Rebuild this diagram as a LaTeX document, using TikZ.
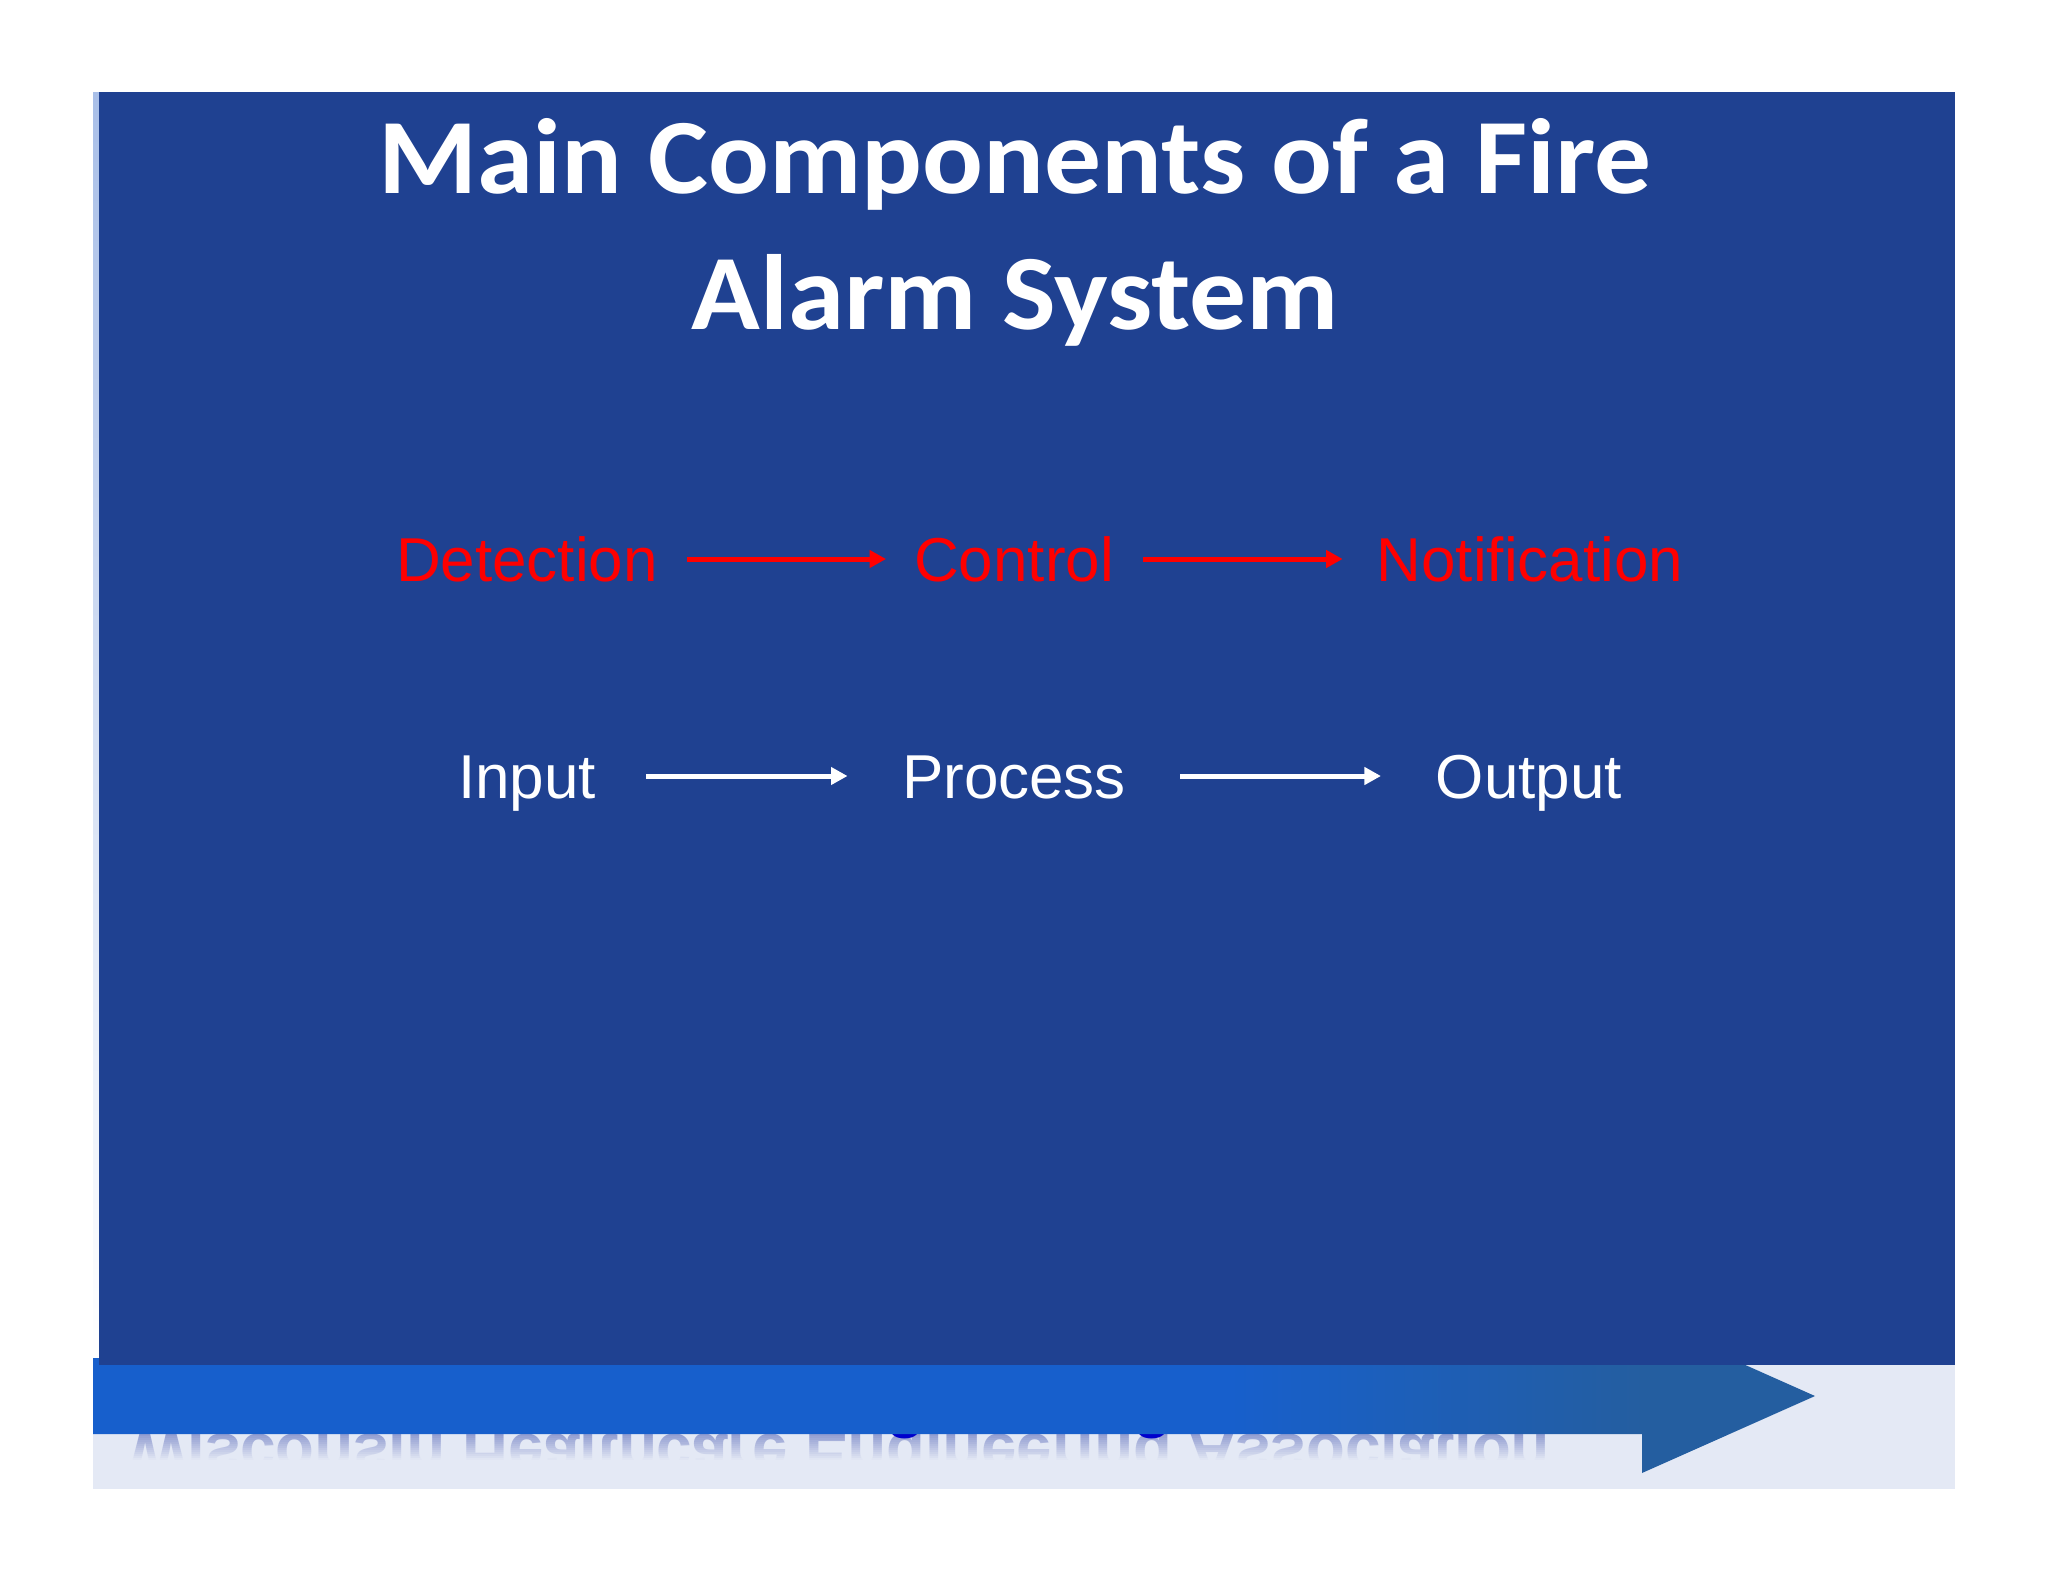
\documentclass[tikz,border=0pt]{standalone}
\usepackage{fontspec}
\usepackage{graphicx}
\setmainfont{Liberation Sans}
\newfontfamily\titlefont[FakeStretch=1.06]{Carlito}
\usetikzlibrary{arrows.meta}
\definecolor{navy}{HTML}{1F4191}
\definecolor{bandc}{HTML}{E4E9F5}
\definecolor{barl}{HTML}{175FCC}
\definecolor{barr}{HTML}{245EA0}
\definecolor{stripc}{HTML}{A9BFE8}
\definecolor{wordc}{HTML}{0000CC}
\definecolor{mirrorc}{HTML}{8A96CE}
\definecolor{redc}{HTML}{FF0000}
\pgfdeclarehorizontalshading{barshade}{100bp}{color(0bp)=(barl); color(58bp)=(barl); color(70bp)=(barr); color(100bp)=(barr)}
\tikzset{
  lab/.style={inner sep=0pt,outer sep=0pt,anchor=base,text height=44pt,text depth=0pt,font=\fontsize{62}{62}\selectfont},
  redlab/.style={lab,text=redc},
  whitelab/.style={lab,text=white},
  arr/.style={line width=5pt,-{Triangle[length=16.5pt,width=17pt]}},
  footer/.style={inner sep=0pt,anchor=base,font=\fontsize{63.5}{64}\selectfont\bfseries}
}
\begin{document}
\begin{tikzpicture}[x=1pt,y=-1pt]
\useasboundingbox (0,0) rectangle (2048,1582);
\fill[white] (0,0) rectangle (2048,1582);
% footer band
\fill[bandc] (93,1365) rectangle (1955,1489);
\node[footer,text=mirrorc] (mirror) at (839,1434) {\scalebox{1}[-1]{Wisconsin Healthcare Engineering Association}};
\foreach \i in {0,...,14}{
  \pgfmathsetmacro{\op}{min(1,0.1+\i/14)}
  \fill[bandc,opacity=\op] (93,1434+2*\i) rectangle (1640,1436+2*\i);
}
\fill[bandc] (93,1463) rectangle (1640,1489);
\node[footer,text=wordc] (word) at (839,1425) {Wisconsin Healthcare Engineering Association};
% arrow bar
\shade[shading=barshade]
  (93,1357) -- (1642,1357) -- (1642,1319) -- (1815,1396) -- (1642,1473) -- (1642,1434) -- (93,1434) -- cycle;
% left strip and main panel
\shade[top color=stripc,bottom color=white,draw=none] (93,92) rectangle (99,1357);
\fill[navy] (99,92) rectangle (1955,1365);
% title
\node[inner sep=0pt,align=center,text=white,font=\titlefont\bfseries\fontsize{107}{136}\selectfont] (title) at (1015,232) {Main Components of a Fire\\Alarm System};
% rows
\node[redlab] (det) at (527,581) {Detection};
\node[redlab] (ctl) at (1014,581) {Control};
\node[redlab] (noti) at (1530,581) {Notification};
\node[whitelab] (inp) at (527,798) {Input};
\node[whitelab] (pro) at (1014,798) {Process};
\node[whitelab] (out) at (1529,798) {Output};
\draw[arr,redc,shorten <=29pt,shorten >=28pt] (det.east) -- (ctl.west);
\draw[arr,redc,shorten <=29pt,shorten >=34pt] (ctl.east) -- (noti.west);
\draw[arr,white,shorten <=50.5pt,shorten >=54.5pt] (inp.east) -- (pro.west);
\draw[arr,white,shorten <=54.5pt,shorten >=55pt] (pro.east) -- (out.west);
\end{tikzpicture}
\end{document}
